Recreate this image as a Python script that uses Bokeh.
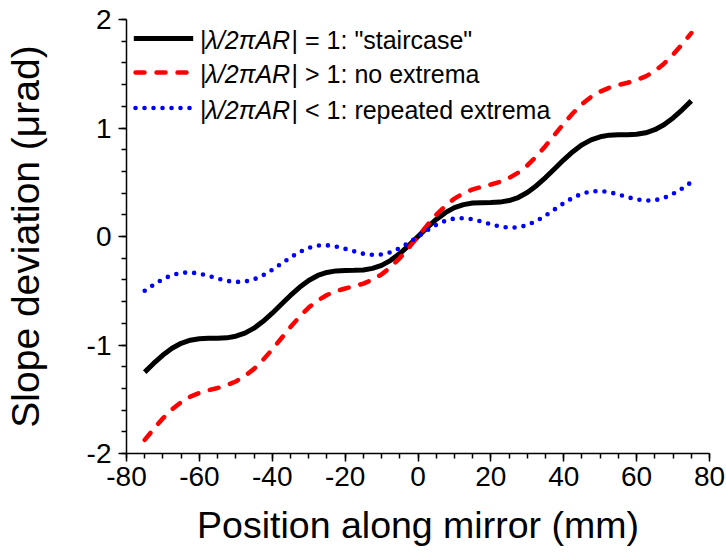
from bokeh.plotting import figure
from bokeh.models import Range1d, SingleIntervalTicker, Label, Arrow
from bokeh.embed import file_html
from bokeh.resources import INLINE

# Position along the mirror (mm)
position_mm = [
    -75.0, -72.5, -70.0, -67.5, -65.0, -62.5, -60.0, -57.5, -55.0, -52.5,
    -50.0, -47.5, -45.0, -42.5, -40.0, -37.5, -35.0, -32.5, -30.0, -27.5,
    -25.0, -22.5, -20.0, -17.5, -15.0, -12.5, -10.0, -7.5, -5.0, -2.5,
    0.0, 2.5, 5.0, 7.5, 10.0, 12.5, 15.0, 17.5, 20.0, 22.5,
    25.0, 27.5, 30.0, 32.5, 35.0, 37.5, 40.0, 42.5, 45.0, 47.5,
    50.0, 52.5, 55.0, 57.5, 60.0, 62.5, 65.0, 67.5, 70.0, 72.5, 75.0,
]

# Slope deviation (urad), |lambda/2piAR| = 1
staircase = [
    -1.250, -1.168, -1.093, -1.030, -0.984, -0.956, -0.942, -0.938, -0.937, -0.934,
    -0.919, -0.891, -0.845, -0.782, -0.707, -0.625, -0.543, -0.468, -0.405, -0.359,
    -0.331, -0.317, -0.313, -0.312, -0.309, -0.294, -0.266, -0.220, -0.157, -0.082,
    0.000, 0.082, 0.157, 0.220, 0.266, 0.294, 0.309, 0.312, 0.313, 0.317,
    0.331, 0.359, 0.405, 0.468, 0.543, 0.625, 0.707, 0.782, 0.845, 0.891,
    0.919, 0.934, 0.937, 0.938, 0.942, 0.956, 0.984, 1.030, 1.093, 1.168, 1.250,
]

# |lambda/2piAR| > 1
no_extrema = [
    -1.875, -1.772, -1.676, -1.593, -1.526, -1.476, -1.442, -1.417, -1.396, -1.371,
    -1.336, -1.286, -1.220, -1.136, -1.041, -0.938, -0.835, -0.739, -0.655, -0.589,
    -0.539, -0.504, -0.479, -0.458, -0.434, -0.399, -0.349, -0.282, -0.199, -0.103,
    0.000, 0.103, 0.199, 0.282, 0.349, 0.399, 0.434, 0.458, 0.479, 0.504,
    0.539, 0.589, 0.655, 0.739, 0.835, 0.938, 1.041, 1.136, 1.220, 1.286,
    1.336, 1.371, 1.396, 1.417, 1.442, 1.476, 1.526, 1.593, 1.676, 1.772, 1.875,
]

# |lambda/2piAR| < 1
repeated_extrema = [
    -0.500, -0.443, -0.393, -0.355, -0.334, -0.331, -0.342, -0.363, -0.387, -0.409,
    -0.419, -0.416, -0.395, -0.357, -0.307, -0.250, -0.193, -0.143, -0.105, -0.084,
    -0.081, -0.092, -0.113, -0.137, -0.159, -0.169, -0.166, -0.145, -0.107, -0.057,
    0.000, 0.057, 0.107, 0.145, 0.166, 0.169, 0.159, 0.137, 0.113, 0.092,
    0.081, 0.084, 0.105, 0.143, 0.193, 0.250, 0.307, 0.357, 0.395, 0.416,
    0.419, 0.409, 0.387, 0.363, 0.342, 0.331, 0.334, 0.355, 0.393, 0.443, 0.500,
]

x_ticks = [-80, -60, -40, -20, 0, 20, 40, 60, 80]
x_tick_labels = ["-80", "-60", "-40", "-20", "0", "20", "40", "60", "80"]
y_ticks = [-2, -1, 0, 1, 2]
y_tick_labels = ["-2", "-1", "0", "1", "2"]

legend_bar = "|"
legend_ratio = "λ/2πAR"
legend_tails = ['| = 1: "staircase"', '| > 1: no extrema', '| < 1: repeated extrema']

FONT = "Liberation Sans"

p = figure(
    width=726, height=556,
    x_range=Range1d(-80, 80), y_range=Range1d(-2, 2),
    output_backend="svg", toolbar_location=None,
    min_border_left=123, min_border_right=17,
    min_border_top=19, min_border_bottom=103,
    x_axis_label="Position along mirror (mm)",
    y_axis_label="Slope deviation (μrad)",
)
p.xgrid.visible = False
p.ygrid.visible = False
p.outline_line_color = None
p.background_fill_color = "white"
p.border_fill_color = "white"

p.xaxis.ticker = SingleIntervalTicker(interval=20, num_minor_ticks=4)
p.yaxis.ticker = SingleIntervalTicker(interval=1, num_minor_ticks=5)
p.xaxis.major_label_overrides = dict(zip(x_ticks, x_tick_labels))
p.yaxis.major_label_overrides = dict(zip(y_ticks, y_tick_labels))

for ax in (p.xaxis[0], p.yaxis[0]):
    ax.axis_line_width = 1.5
    ax.axis_line_color = "black"
    ax.major_tick_line_width = 1.5
    ax.minor_tick_line_width = 1.5
    ax.major_tick_line_color = "black"
    ax.minor_tick_line_color = "black"
    ax.major_tick_in = 0
    ax.major_tick_out = 8
    ax.minor_tick_in = 0
    ax.minor_tick_out = 5
    ax.major_label_text_font = FONT
    ax.major_label_text_font_size = "28px"
    ax.major_label_text_color = "black"
    ax.axis_label_text_font = FONT
    ax.axis_label_text_font_style = "normal"
    ax.axis_label_text_color = "black"

p.xaxis.axis_label_text_font_size = "37.5px"
p.yaxis.axis_label_text_font_size = "39px"
p.xaxis.major_label_standoff = 5
p.xaxis.axis_label_standoff = 15
p.yaxis.major_label_standoff = 7
p.yaxis.axis_label_standoff = 37

# Curves
p.line(position_mm, staircase, line_color="black", line_width=5, line_join="round")
p.line(position_mm, no_extrema, line_color="#ff0000", line_width=4.5,
       line_dash="9 12", line_cap="round", line_join="round")
p.line(position_mm, repeated_extrema, line_color="#0000ff", line_width=4.6,
       line_dash="0 9", line_cap="round", line_join="round")

# Legend: sample strokes and mixed roman / italic text
rows_y = [38.0, 72.0, 107.5]
rows_base = [39.3, 73.3, 109.5]
samples = [
    dict(x_start=133.3, x_end=192.7, line_color="black", line_width=5),
    dict(x_start=135.0, x_end=186.0, line_color="#ff0000", line_width=4.5,
         line_dash="9 12", line_cap="round"),
    dict(x_start=135.0, x_end=192.0, line_color="#0000ff", line_width=4.6,
         line_dash="0 9", line_cap="round"),
]
for yl, yb, s, tail in zip(rows_y, rows_base, samples, legend_tails):
    p.add_layout(Arrow(start=None, end=None, y_start=yl, y_end=yl,
                       start_units="canvas", end_units="canvas", **s))
    common = dict(y=yb, x_units="canvas", y_units="canvas",
                  text_font=FONT, text_font_size="25px", text_color="black",
                  text_baseline="alphabetic", text_align="left")
    p.add_layout(Label(x=199.5, text=legend_bar, **common))
    p.add_layout(Label(x=205.0, text=legend_ratio, text_font_style="italic", **common))
    p.add_layout(Label(x=291.1, text=tail, **common))

open("out.html", "w").write(file_html(p, INLINE))
